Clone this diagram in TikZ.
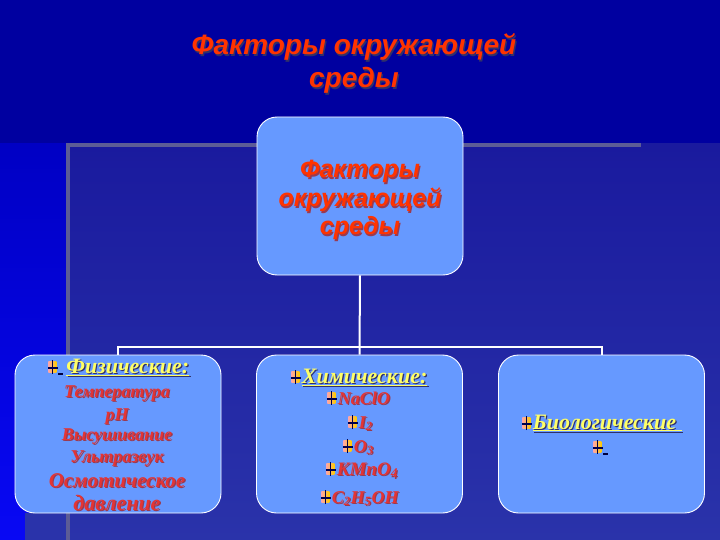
\documentclass[tikz,border=0pt]{standalone}
\usepackage{fontspec}
\setmainfont{Liberation Serif}
\newfontfamily\arialf{Liberation Sans}
\usetikzlibrary{positioning}
\definecolor{bgtop}{HTML}{0000A0}
\definecolor{striptop}{HTML}{0000C4}
\definecolor{stripbot}{HTML}{0808F4}
\definecolor{paneltop}{HTML}{1A1A9E}
\definecolor{panelbot}{HTML}{2A33AA}
\definecolor{graylin}{HTML}{5C5C96}
\definecolor{boxfill}{HTML}{6699FF}
\definecolor{titred}{HTML}{FF3300}
\definecolor{boxred}{HTML}{E43434}
\definecolor{hdyel}{HTML}{FFFF66}
\definecolor{shadowc}{HTML}{30306A}
\definecolor{shadowr}{HTML}{9A3A50}
\newcommand\shd[2]{\makebox[0pt][l]{\hspace{1.2pt}\raisebox{-1.2pt}{\textcolor{#1}{#2}}}#2}
\newcommand\bic{\tikz[baseline=0pt,x=1pt,y=1pt]{%
  \shade[left color=red!35!white, right color=yellow!60!orange] (0,1) rectangle (8,12);
  \draw[black!70!blue,line width=1.2pt] (4.5,-1) -- (4.5,13) (-0.5,5) -- (10,5);}}
\newcommand\bicd{\tikz[baseline=0pt,x=1pt,y=1pt]{%
  \shade[left color=red!35!white, right color=yellow!60!orange] (0,1) rectangle (8,12);
  \draw[black!70!blue,line width=1.2pt] (4.5,-1) -- (4.5,13) (-0.5,5) -- (10,5);
  \fill[black!75!blue] (10,-1.5) rectangle (15,0.3);}}
\tikzset{
  bigbox/.style={draw=white, line width=0.9pt, fill=boxfill, rounded corners=20pt,
    minimum width=206pt, minimum height=158pt, inner sep=0pt},
  conn/.style={draw=white, line width=2pt},
  ttl/.style={text=titred, font=\arialf\bfseries\itshape\fontsize{28}{30}\selectfont, anchor=base, inner sep=0pt},
  btl/.style={text=titred, font=\arialf\bfseries\itshape\fontsize{25}{26}\selectfont, anchor=base, inner sep=0pt},
  hd/.style={text=hdyel, font=\bfseries\itshape\fontsize{22}{24}\selectfont, anchor=base west, inner sep=0pt},
  rt/.style={text=boxred, font=\bfseries\itshape\fontsize{18}{20}\selectfont, anchor=base, inner sep=0pt},
  rtw/.style={text=boxred, font=\bfseries\itshape\fontsize{18}{20}\selectfont, anchor=base west, inner sep=0pt},
}
\begin{document}
\begin{tikzpicture}[x=1pt,y=-1pt]
\useasboundingbox (0,0) rectangle (720,540);
% background
\fill[bgtop] (0,0) rectangle (720,540);
\shade[top color=striptop, bottom color=stripbot] (0,144) rectangle (67,540);
\shade[top color=paneltop, bottom color=panelbot] (67,144) rectangle (720,540);
\fill[panelbot] (25,513) rectangle (67,540);
\fill[graylin] (66,143) rectangle (641,147);
\fill[graylin] (66,143) rectangle (70,540);
% title
\node[ttl] (t1) at (354,55) {\shd{shadowc}{Факторы окружающей}};
\node[ttl] (t2) at (354,88) {\shd{shadowc}{среды}};
% boxes
\node[bigbox] (main) at (360,196) {};
\node[bigbox] (left) at (118,434) {};
\node[bigbox] (mid) at (359.5,434) {};
\node[bigbox] (right) at (601.5,434) {};
\coordinate (bus) at (360,347);
% connectors
\draw[conn] (main.south) -- (mid.north);
\draw[conn] (left.north) -- (left.north |- bus) -- (right.north |- bus) -- (right.north);
% main box text
\node[btl] (m1) at (360,178) {\shd{shadowr}{Факторы}};
\node[btl] (m2) at (360,207) {\shd{shadowr}{окружающей}};
\node[btl] (m3) at (360,235) {\shd{shadowr}{среды}};
% left box
\node[hd] (l0) at (47,373) {\bicd\hspace{3pt}\shd{shadowc}{\underline{Физические:}}};
\node[rt] (l1) at (117,397) {\shd{shadowr}{Температура}};
\node[rt] (l2) at (117,420) {\shd{shadowr}{pH}};
\node[rt] (l3) at (117,440) {\shd{shadowr}{Высушивание}};
\node[rt, font=\bfseries\itshape\fontsize{18}{20}\selectfont] (l4) at (117,462) {\shd{shadowr}{Ультразвук}};
\node[rt, font=\bfseries\itshape\fontsize{21}{24}\selectfont] (l5) at (117,487) {\shd{shadowr}{Осмотическое}};
\node[rt, font=\bfseries\itshape\fontsize{22}{24}\selectfont] (l6) at (117,510) {\shd{shadowr}{давление}};
% middle box
\node[hd] (c0) at (290,383) {\bic\shd{shadowc}{\underline{Химические:}}};
\node[rtw] (c1) at (326,404) {\bic\shd{shadowr}{NaClO}};
\node[rtw] (c2) at (347,428) {\bic\shd{shadowr}{I\textsubscript{2}}};
\node[rtw] (c3) at (342,452) {\bic\shd{shadowr}{O\textsubscript{3}}};
\node[rtw, font=\bfseries\itshape\fontsize{19}{20}\selectfont] (c4) at (325,475) {\bic\shd{shadowr}{KMnO\textsubscript{4}}};
\node[rtw] (c5) at (320,503) {\bic\shd{shadowr}{C\textsubscript{2}H\textsubscript{5}OH}};
% right box
\node[hd] (r0) at (521,429) {\bic\shd{shadowc}{\underline{Биологические }}};
\node[hd] (r1) at (592,453) {\bicd};
\end{tikzpicture}
\end{document}
